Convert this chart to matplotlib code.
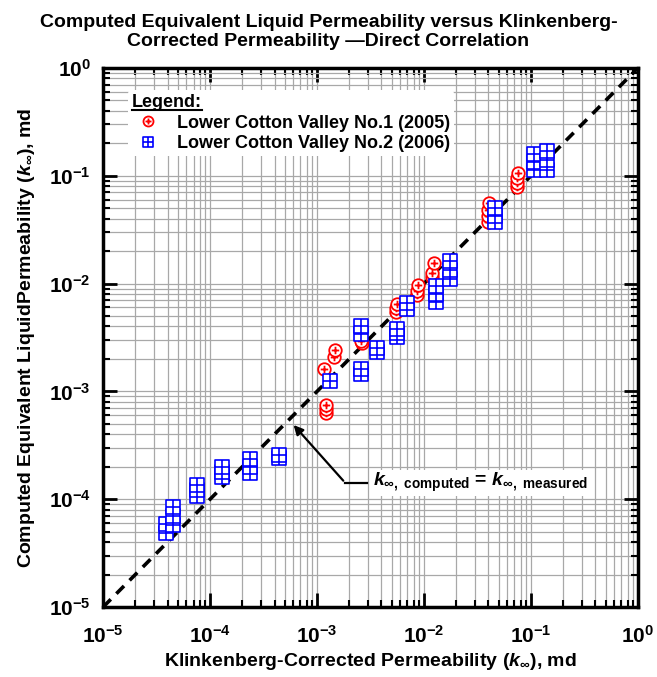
import numpy as np
import matplotlib
matplotlib.use('Agg')
import matplotlib.pyplot as plt
from matplotlib.path import Path
from matplotlib.lines import Line2D

plt.rcParams['font.family'] = 'Liberation Sans'
plt.rcParams['font.weight'] = 'bold'
plt.rcParams['axes.labelweight'] = 'bold'
plt.rcParams['mathtext.fontset'] = 'custom'
plt.rcParams['mathtext.rm'] = 'Liberation Sans:bold'
plt.rcParams['mathtext.it'] = 'Liberation Sans:italic:bold'
plt.rcParams['mathtext.bf'] = 'Liberation Sans:bold'

# Lower Cotton Valley No.1 (2005)
lcv1_x = [1.15e-3, 1.2e-3, 1.2e-3, 1.2e-3, 1.45e-3, 1.48e-3, 2.65e-3, 2.6e-3,
          5.5e-3, 5.5e-3, 5.6e-3, 8.6e-3, 8.6e-3, 8.7e-3, 1.18e-2, 1.2e-2, 1.23e-2,
          4.0e-2, 4.0e-2, 4.0e-2, 4.05e-2, 7.4e-2, 7.4e-2, 7.4e-2, 7.5e-2]
lcv1_y = [1.6e-3, 6.3e-4, 6.8e-4, 7.5e-4, 2.1e-3, 2.4e-3, 2.8e-3, 2.95e-3,
          5.4e-3, 5.9e-3, 6.5e-3, 7.8e-3, 8.6e-3, 9.6e-3, 1.15e-2, 1.25e-2, 1.55e-2,
          3.7e-2, 4.2e-2, 4.8e-2, 5.6e-2, 7.9e-2, 8.6e-2, 9.5e-2, 1.07e-1]

# Lower Cotton Valley No.2 (2006)
lcv2_x = [3.9e-5, 3.9e-5, 4.5e-5, 4.5e-5, 4.5e-5, 7.6e-5, 7.6e-5, 7.6e-5,
          1.3e-4, 1.3e-4, 1.3e-4, 2.35e-4, 2.35e-4, 2.35e-4, 4.4e-4, 4.4e-4,
          1.33e-3, 2.6e-3, 2.6e-3, 2.6e-3, 2.6e-3, 3.6e-3, 3.6e-3,
          5.6e-3, 5.6e-3, 5.6e-3, 7.0e-3, 7.0e-3, 1.3e-2, 1.3e-2, 1.3e-2,
          1.75e-2, 1.75e-2, 1.75e-2, 4.6e-2, 4.6e-2, 4.6e-2,
          0.107, 0.107, 0.107, 0.14, 0.14, 0.14]
lcv2_y = [4.9e-5, 5.9e-5, 5.8e-5, 7.0e-5, 8.5e-5, 1.08e-4, 1.22e-4, 1.36e-4,
          1.6e-4, 1.8e-4, 2.0e-4, 1.75e-4, 2.0e-4, 2.35e-4, 2.4e-4, 2.55e-4,
          1.25e-3, 3.4e-3, 4.0e-3, 1.45e-3, 1.6e-3, 2.3e-3, 2.55e-3,
          3.2e-3, 3.5e-3, 3.8e-3, 5.8e-3, 6.6e-3, 6.8e-3, 8.0e-3, 9.4e-3,
          1.1e-2, 1.34e-2, 1.62e-2, 3.7e-2, 4.2e-2, 5.0e-2,
          0.113, 0.134, 0.16, 0.113, 0.14, 0.17]

# markers: circle with plus, square with cross grid
M, L = Path.MOVETO, Path.LINETO
cross_c = Path([(-0.6, 0), (0.6, 0), (0, -0.6), (0, 0.6)], [M, L, M, L])
circ_plus = Path.make_compound_path(Path.unit_circle(), cross_c)
sq = Path([(-1, -1), (1, -1), (1, 1), (-1, 1), (-1, -1)], [M, L, L, L, Path.CLOSEPOLY])
cross_s = Path([(-1, 0), (1, 0), (0, -1), (0, 1)], [M, L, M, L])
sq_grid = Path.make_compound_path(sq, cross_s)

fig = plt.figure(figsize=(6.57, 6.77), dpi=100)
ax = fig.add_axes([0.157, 0.1034, 0.814, 0.7962])

ax.set_xscale('log')
ax.set_yscale('log')
ax.set_xlim(1e-5, 1)
ax.set_ylim(1e-5, 1)

ax.grid(True, which='both', color='#a8a8a8', linewidth=0.9)
ax.set_axisbelow(True)

ax.plot([1e-5, 1], [1e-5, 1], color='black', linestyle=(0, (3, 2.2)), linewidth=2.6, zorder=2)

ax.plot(lcv1_x, lcv1_y, linestyle='none', marker=circ_plus, markersize=9,
        markerfacecolor='white', markeredgecolor='red', markeredgewidth=1.3,
        label='Lower Cotton Valley No.1 (2005)', zorder=3)
ax.plot(lcv2_x, lcv2_y, linestyle='none', marker=sq_grid, markersize=9.4,
        markerfacecolor='white', markeredgecolor='blue', markeredgewidth=1.2,
        label='Lower Cotton Valley No.2 (2006)', zorder=3)

for s in ax.spines.values():
    s.set_linewidth(2.5)
ax.tick_params(which='major', direction='in', length=10, width=2, top=True, right=True,
               labelsize=15)
ax.tick_params(axis='x', which='major', pad=13)
ax.tick_params(axis='y', which='major', pad=9)
ax.tick_params(which='minor', direction='in', length=5, width=1.5, top=True, right=True)
ax.xaxis.set_minor_formatter(matplotlib.ticker.NullFormatter())
ax.yaxis.set_minor_formatter(matplotlib.ticker.NullFormatter())

ax.set_xlabel(r'Klinkenberg-Corrected Permeability ($k_{\infty}$), md', fontsize=14, labelpad=3)
ax.set_ylabel(r'Computed Equivalent LiquidPermeability ($k_{\infty}$), md', fontsize=14, labelpad=8)
fig.suptitle('Computed Equivalent Liquid Permeability versus Klinkenberg-\n'
             'Corrected Permeability \u2014Direct Correlation',
             fontsize=14, fontweight='bold', y=0.98, linespacing=1.2)

leg = ax.legend(loc='upper left', bbox_to_anchor=(0.03, 0.975), title='Legend:',
                alignment='left', frameon=True, framealpha=1, edgecolor='white',
                fontsize=13, title_fontsize=13, markerscale=0.8,
                handletextpad=0.7, borderpad=0.2, labelspacing=0.2, handlelength=1.8)
leg.get_frame().set_linewidth(0)

# annotation
ax.annotate('', xy=(5.8e-4, 5.1e-4), xytext=(1.83e-3, 1.42e-4),
            arrowprops=dict(arrowstyle='-|>', color='black', lw=1.6, mutation_scale=14))
ax.plot([1.83e-3, 2.95e-3], [1.42e-4, 1.42e-4], color='black', lw=1.6)
ax.text(3.3e-3, 1.42e-4, r'$k_{\infty\mathrm{,\ computed}}$ = $k_{\infty\mathrm{,\ measured}}$',
        fontsize=14, va='center', ha='left',
        bbox=dict(facecolor='white', edgecolor='none', pad=1))

# underline the legend title
fig.canvas.draw()
tb = leg.get_title().get_window_extent()
inv = fig.transFigure.inverted()
(x0, y0), (x1, _) = inv.transform([(tb.x0, tb.y0), (tb.x1, tb.y0)])
fig.add_artist(Line2D([x0, x1], [y0 + 0.001, y0 + 0.001], color='black', lw=1.5,
                      transform=fig.transFigure))

fig.savefig('out.png', dpi=100)
